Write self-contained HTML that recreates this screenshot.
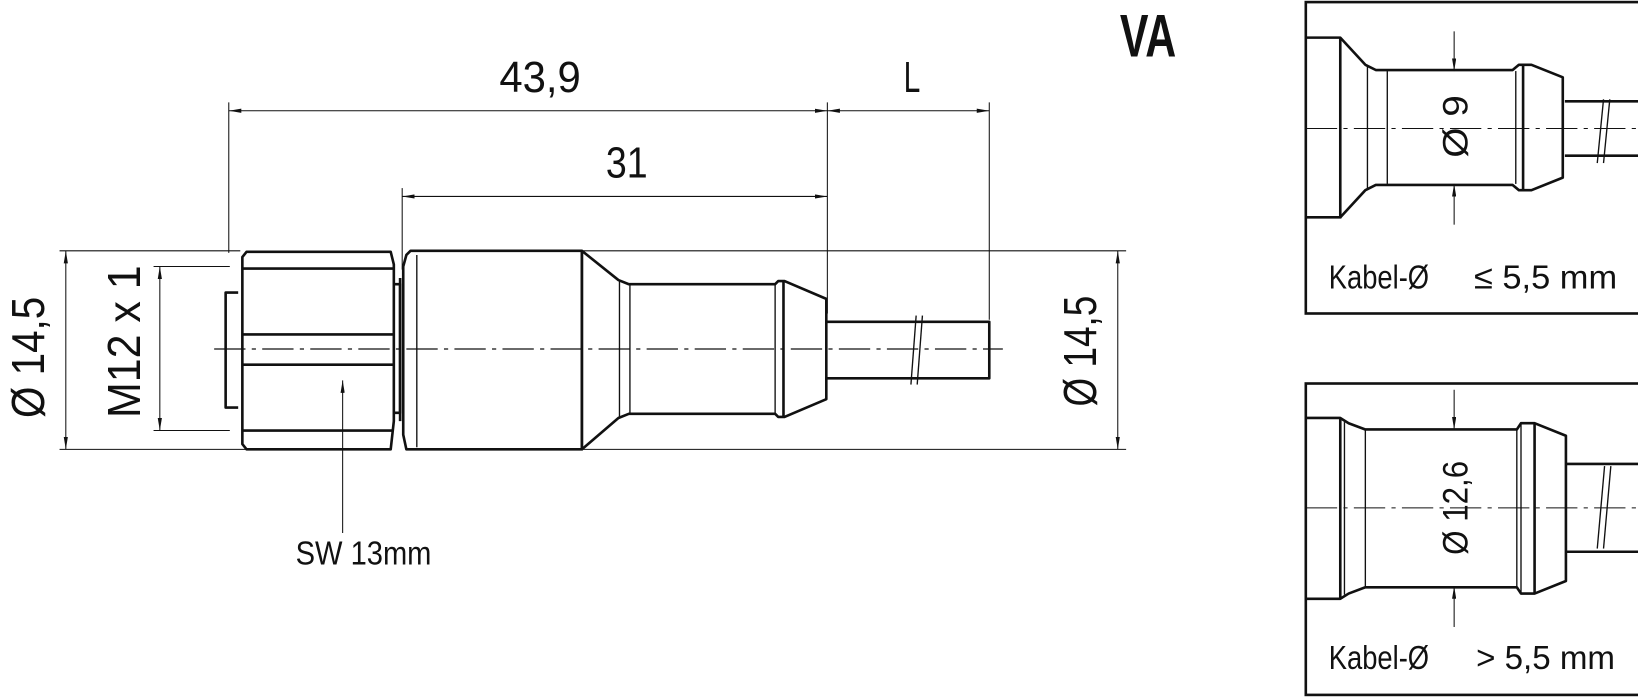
<!DOCTYPE html>
<html><head><meta charset="utf-8"><style>
html,body{margin:0;padding:0;background:#fff;}
svg{display:block;}
text{font-family:"Liberation Sans Narrow","Liberation Sans",sans-serif;fill:#111;}
</style></head><body>
<svg width="1638" height="697" viewBox="0 0 1568 667" preserveAspectRatio="none" xmlns="http://www.w3.org/2000/svg">
<defs>
<marker id="a" viewBox="0 0 12 4" refX="12" refY="2" markerWidth="12" markerHeight="4" orient="auto" markerUnits="userSpaceOnUse"><path d="M0,0 L12,2 L0,4 z" fill="#111"/></marker>
<marker id="b" viewBox="0 0 12 4" refX="0" refY="2" markerWidth="12" markerHeight="4" orient="auto" markerUnits="userSpaceOnUse"><path d="M12,0 L0,2 L12,4 z" fill="#111"/></marker>
</defs>
<g stroke="#111" fill="none">
<g stroke-width="1">
<line x1="219" y1="98" x2="219" y2="242"/>
<line x1="385" y1="180" x2="385" y2="258"/>
<line x1="792" y1="98" x2="792" y2="300"/>
<line x1="947" y1="98" x2="947" y2="306"/>
<line x1="57" y1="240" x2="230" y2="240"/>
<line x1="57" y1="430" x2="237" y2="430"/>
<line x1="147" y1="255" x2="220" y2="255"/>
<line x1="147" y1="412" x2="220" y2="412"/>
<line x1="558" y1="240" x2="1078" y2="240"/>
<line x1="558" y1="430" x2="1078" y2="430"/>
</g>
<g stroke-width="1">
<line x1="219" y1="106" x2="792" y2="106" marker-start="url(#b)" marker-end="url(#a)"/>
<line x1="792" y1="106" x2="947" y2="106" marker-start="url(#b)" marker-end="url(#a)"/>
<line x1="385" y1="188" x2="792" y2="188" marker-start="url(#b)" marker-end="url(#a)"/>
<line x1="63" y1="240" x2="63" y2="430" marker-start="url(#b)" marker-end="url(#a)"/>
<line x1="153" y1="255" x2="153" y2="412" marker-start="url(#b)" marker-end="url(#a)"/>
<line x1="1070" y1="240" x2="1070" y2="430" marker-start="url(#b)" marker-end="url(#a)"/>
<line x1="328" y1="510" x2="328" y2="364" marker-end="url(#a)"/>
</g>
<line x1="205" y1="334" x2="960" y2="334" stroke-width="1.2" stroke-dasharray="30,6,4,6"/>
<g stroke-width="2.5" stroke-linejoin="round">
<path d="M228,280 h-12 v110 h12"/>
<path d="M232,246 l4,-5 h138 l3,12 v150 l-3,27 h-138 l-4,-5 z"/>
<line x1="232" y1="257" x2="376" y2="257"/>
<line x1="232" y1="320" x2="376" y2="320"/>
<line x1="232" y1="349" x2="376" y2="349"/>
<line x1="232" y1="412" x2="376" y2="412"/>
<path d="M377,272 h6 v123 h-6"/>
<path d="M383,266 v137"/>
<path d="M389,430 l-3,-14 v-161 l3,-11 l4,-4 h164 v190 h-164 z"/>
<line x1="399" y1="244" x2="399" y2="428" stroke-width="1.3"/>
<line x1="557" y1="240" x2="557" y2="430"/>
<path d="M557,240 L592,268 L602,272 H742 L745,269 H751 L791,286 V382 L751,399 H745 L742,396 H602 L592,400 L557,430"/>
<line x1="603" y1="272" x2="603" y2="396" stroke-width="1.3"/>
<line x1="593" y1="268" x2="593" y2="400" stroke-width="1.3"/>
<line x1="742" y1="272" x2="742" y2="396" stroke-width="1.3"/>
<line x1="750" y1="269" x2="750" y2="399"/>
<path d="M790,308 h157 v54 h-157"/>
</g>
<g stroke-width="1.3">
<line x1="872" y1="368" x2="877" y2="302"/>
<line x1="878" y1="368" x2="883" y2="302"/>
</g>
<rect x="1250" y="2" width="330" height="298" stroke-width="2.5"/>
<line x1="1250" y1="123" x2="1568" y2="123" stroke-width="1" stroke-dasharray="30,6,4,6"/>
<g stroke-width="2.5" stroke-linejoin="round">
<path d="M1250,36 h33 l24,26 l10,5 h131 l6,-5 h12 l30,12 v96 l-30,12 h-12 l-6,-5 h-131 l-10,5 l-24,26 h-33"/>
<line x1="1283" y1="36" x2="1283" y2="209"/>
<line x1="1458" y1="62" x2="1458" y2="183"/>
<path d="M1498,97 h72 M1498,149 h72"/>
</g>
<g stroke-width="1.3">
<line x1="1309" y1="64" x2="1309" y2="182"/>
<line x1="1328" y1="68" x2="1328" y2="176"/>
<line x1="1451" y1="68" x2="1451" y2="176"/>
<line x1="1529" y1="156" x2="1535" y2="95"/>
<line x1="1535" y1="156" x2="1541" y2="95"/>
<line x1="1392" y1="30" x2="1392" y2="68" stroke-width="1" marker-end="url(#a)"/>
<line x1="1392" y1="215" x2="1392" y2="176" stroke-width="1" marker-end="url(#a)"/>
</g>
<rect x="1250" y="367" width="330" height="298" stroke-width="2.5"/>
<line x1="1250" y1="486" x2="1568" y2="486" stroke-width="1" stroke-dasharray="30,6,4,6"/>
<g stroke-width="2.5" stroke-linejoin="round">
<path d="M1250,400 h33 l8,5 l16,6 h145 l4,-6 h13 l30,12 v139 l-30,12 h-13 l-4,-6 h-145 l-16,6 l-8,5 h-33"/>
<line x1="1283" y1="400" x2="1283" y2="573"/>
<line x1="1469" y1="405" x2="1469" y2="567"/>
<path d="M1499,444 h72 M1499,528 h72"/>
</g>
<g stroke-width="1.3">
<line x1="1287" y1="404" x2="1287" y2="569"/>
<line x1="1307" y1="411" x2="1307" y2="561"/>
<line x1="1452" y1="411" x2="1452" y2="561"/>
<line x1="1456" y1="405" x2="1456" y2="567"/>
<line x1="1529" y1="525" x2="1536" y2="446"/>
<line x1="1535" y1="525" x2="1542" y2="446"/>
<line x1="1392" y1="373" x2="1392" y2="411" stroke-width="1" marker-end="url(#a)"/>
<line x1="1392" y1="600" x2="1392" y2="561" stroke-width="1" marker-end="url(#a)"/>
</g>
</g>
<text x="1072" y="54" font-size="58" font-weight="bold" textLength="54" lengthAdjust="spacingAndGlyphs">VA</text>
<text x="478" y="88" font-size="42" textLength="78" lengthAdjust="spacingAndGlyphs">43,9</text>
<text x="865" y="88" font-size="42" textLength="16" lengthAdjust="spacingAndGlyphs">L</text>
<text x="580" y="170" font-size="42" textLength="40" lengthAdjust="spacingAndGlyphs">31</text>
<text x="283" y="540" font-size="32" textLength="130" lengthAdjust="spacingAndGlyphs">SW 13mm</text>
<text transform="translate(42,342) rotate(-90)" text-anchor="middle" font-size="44" textLength="116" lengthAdjust="spacingAndGlyphs">Ø 14,5</text>
<text transform="translate(134,327) rotate(-90)" text-anchor="middle" font-size="44" textLength="146" lengthAdjust="spacingAndGlyphs">M12 x 1</text>
<text transform="translate(1049,336) rotate(-90)" text-anchor="middle" font-size="44" textLength="106" lengthAdjust="spacingAndGlyphs">Ø 14,5</text>
<text transform="translate(1405,121) rotate(-90)" text-anchor="middle" font-size="34" textLength="60" lengthAdjust="spacingAndGlyphs">Ø 9</text>
<text transform="translate(1405,486) rotate(-90)" text-anchor="middle" font-size="34" textLength="90" lengthAdjust="spacingAndGlyphs">Ø 12,6</text>
<text x="1272" y="276" font-size="32" textLength="96" lengthAdjust="spacingAndGlyphs">Kabel-Ø</text>
<text x="1411" y="276" font-size="32" textLength="137" lengthAdjust="spacingAndGlyphs">≤ 5,5 mm</text>
<text x="1272" y="640" font-size="32" textLength="96" lengthAdjust="spacingAndGlyphs">Kabel-Ø</text>
<text x="1413" y="640" font-size="32" textLength="133" lengthAdjust="spacingAndGlyphs">&gt; 5,5 mm</text>
</svg>
</body></html>
